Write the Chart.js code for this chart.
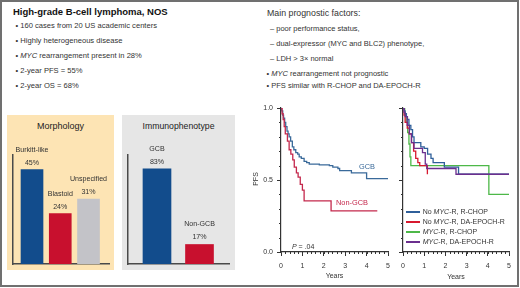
<!DOCTYPE html>
<html>
<head>
<meta charset="utf-8">
<script src="https://cdn.jsdelivr.net/npm/chart.js@4.4.0/dist/chart.umd.min.js"></script>
<style>
  html, body { margin: 0; padding: 0; background: #fff; }
  body { width: 520px; height: 288px; position: relative; overflow: hidden;
         font-family: "Liberation Sans", Arial, Helvetica, sans-serif; color: #333; }
  .abs { position: absolute; white-space: nowrap; }
  #frame { position: absolute; left: 0; top: 0; width: 519px; height: 287px;
           box-sizing: border-box; border: 2px solid #707070; }
  canvas { position: absolute; }
  .panel { position: absolute; }
</style>
</head>
<body>
<div id="frame"></div>

<div class="abs" style="left:13px;top:7px;font-size:9.5px;line-height:9.5px;font-weight:bold;color:#111;">High-grade B-cell lymphoma, NOS</div>
<div class="abs" style="left:15.5px;top:22.2px;font-size:7.6px;line-height:7.6px;">• 160 cases from 20 US academic centers</div>
<div class="abs" style="left:15.5px;top:37.2px;font-size:7.6px;line-height:7.6px;">• Highly heterogeneous disease</div>
<div class="abs" style="left:15.5px;top:52.2px;font-size:7.6px;line-height:7.6px;">• <i>MYC</i> rearrangement present in 28%</div>
<div class="abs" style="left:15.5px;top:67.2px;font-size:7.6px;line-height:7.6px;">• 2-year PFS = 55%</div>
<div class="abs" style="left:15.5px;top:81.7px;font-size:7.6px;line-height:7.6px;">• 2-year OS = 68%</div>

<div class="abs" style="left:267px;top:8.9px;font-size:8.8px;line-height:8.8px;">Main prognostic factors:</div>
<div class="abs" style="left:270px;top:24.9px;font-size:7.5px;line-height:7.5px;">– poor performance status,</div>
<div class="abs" style="left:270px;top:39.9px;font-size:7.5px;line-height:7.5px;">– dual-expressor (MYC and BLC2) phenotype,</div>
<div class="abs" style="left:270px;top:55.2px;font-size:7.5px;line-height:7.5px;">– LDH &gt; 3× normal</div>
<div class="abs" style="left:266.5px;top:69.5px;font-size:7.5px;line-height:7.5px;">• <i>MYC</i> rearrangement not prognostic</div>
<div class="abs" style="left:266.5px;top:82px;font-size:7.5px;line-height:7.5px;">• PFS similar with R-CHOP and DA-EPOCH-R</div>

<div class="panel" style="left:7px;top:115px;width:107px;height:155px;background:#fde4b4;"></div>
<div class="panel" style="left:122px;top:115px;width:113px;height:155px;background:#e6e6e6;"></div>
<div class="abs" style="left:7px;width:107px;text-align:center;top:121.5px;font-size:9px;line-height:9px;color:#222;">Morphology</div>
<div class="abs" style="left:122px;width:113px;text-align:center;top:121.6px;font-size:8.7px;line-height:8.7px;color:#222;">Immunophenotype</div>

<canvas id="morphChart" width="107" height="155" style="left:7px;top:115px;"></canvas>
<canvas id="immunoChart" width="113" height="155" style="left:122px;top:115px;"></canvas>
<canvas id="kmSubtype" width="150" height="188" style="left:245px;top:98px;"></canvas>
<canvas id="kmTreatment" width="125" height="188" style="left:395px;top:98px;"></canvas>

<div class="abs" style="left:255px;top:179px;font-size:7px;line-height:7px;transform:translate(-50%,-50%) rotate(-90deg);">PFS</div>
<div class="abs" style="left:334.5px;top:275px;font-size:7px;line-height:7px;transform:translate(-50%,-50%);">Years</div>
<div class="abs" style="left:456px;top:275.5px;font-size:7px;line-height:7px;transform:translate(-50%,-50%);">Years</div>
<div class="abs" style="left:367px;top:167px;font-size:7.4px;line-height:7.4px;transform:translate(-50%,-50%);color:#3a6a9a;">GCB</div>
<div class="abs" style="left:352px;top:203px;font-size:7.4px;line-height:7.4px;transform:translate(-50%,-50%);color:#c4284c;">Non-GCB</div>
<div class="abs" style="left:292px;top:242.5px;font-size:7px;line-height:7px;"><i>P</i> = .04</div>

<div id="kmLegend"></div>

<script>
// bar panels
const morphCategories = ['Burkitt-like', 'Blastoid', 'Unspecified'];
const morphValues = [45, 24, 31];
const morphColors = ['#124c8c', '#c8102e', '#c3c3c8'];

const immunoCategories = ['GCB', 'Non-GCB'];
const immunoValues = [83, 17];
const immunoColors = ['#124c8c', '#c8102e'];

// PFS by cell of origin (years, PFS proportion)
const gcbTimes = [0, 0.03, 0.08, 0.12, 0.17, 0.22, 0.28, 0.33, 0.38, 0.45, 0.53, 0.6, 0.69, 0.78, 0.85, 0.95, 1.08, 1.2, 1.32, 1.79, 2.26, 2.42, 2.66, 2.74, 3.29, 4.0, 5.0];
const gcbPfs = [1.0, 0.98, 0.95, 0.93, 0.9, 0.87, 0.84, 0.82, 0.8, 0.77, 0.73, 0.71, 0.69, 0.68, 0.66, 0.65, 0.63, 0.62, 0.61, 0.605, 0.6, 0.59, 0.58, 0.565, 0.55, 0.51, 0.51];
const nonGcbTimes = [0, 0.05, 0.1, 0.15, 0.2, 0.3, 0.38, 0.46, 0.55, 0.62, 0.72, 0.8, 0.9, 1.0, 1.08, 2.34, 4.5];
const nonGcbPfs = [1.0, 0.96, 0.92, 0.87, 0.82, 0.77, 0.71, 0.68, 0.64, 0.59, 0.55, 0.52, 0.47, 0.43, 0.355, 0.285, 0.285];

// PFS by MYC status and regimen
const treatmentNames = ['No MYC-R, R-CHOP', 'No MYC-R, DA-EPOCH-R', 'MYC-R, R-CHOP', 'MYC-R, DA-EPOCH-R'];
const treatmentColors = ['#2f5f9a', '#d7192f', '#4db848', '#6b2f8e'];
const noMycRchopTimes = [0, 0.05, 0.1, 0.16, 0.21, 0.28, 0.37, 0.45, 0.52, 0.84, 1.0, 1.16, 1.32, 1.42, 1.95, 2.62, 5.0];
const noMycRchopPfs = [1.0, 0.98, 0.96, 0.94, 0.92, 0.88, 0.85, 0.8, 0.76, 0.73, 0.72, 0.68, 0.65, 0.62, 0.59, 0.54, 0.54];
const noMycEpochTimes = [0, 0.05, 0.1, 0.2, 0.3, 0.4, 0.5, 0.6, 0.7, 0.79, 1.15];
const noMycEpochPfs = [1.0, 0.95, 0.9, 0.86, 0.82, 0.76, 0.7, 0.65, 0.62, 0.6, 0.54];
const mycRchopTimes = [0, 0.08, 0.15, 0.22, 0.28, 0.33, 0.37, 4.05, 5.0];
const mycRchopPfs = [1.0, 0.96, 0.9, 0.83, 0.75, 0.66, 0.6, 0.4, 0.4];
const mycEpochTimes = [0, 0.05, 0.1, 0.2, 0.3, 0.4, 0.52, 0.92, 1.05, 1.12, 2.5, 5.0];
const mycEpochPfs = [1.0, 0.97, 0.94, 0.88, 0.82, 0.76, 0.72, 0.69, 0.61, 0.58, 0.54, 0.54];

const yearTicks = [0, 1, 2, 3, 4, 5];
const minorStepX = 0.2;
const minorStepY = 0.1;

Chart.defaults.font.family = '"Liberation Sans", Arial, Helvetica, sans-serif';
Chart.defaults.color = '#333';

function toPoints(xs, ys) {
    return xs.map((x, i) => ({ x: x, y: ys[i] }));
}

// category name + percentage written above each bar
const barLabels = {
    id: 'barLabels',
    afterDatasetsDraw(chart, args, opts) {
        const ctx = chart.ctx;
        const meta = chart.getDatasetMeta(0);
        ctx.save();
        ctx.fillStyle = '#333';
        ctx.font = '7.1px "Liberation Sans", Arial, sans-serif';
        ctx.textAlign = 'center';
        ctx.textBaseline = 'middle';
        meta.data.forEach((bar, i) => {
            ctx.fillText(opts.names[i], bar.x, bar.y - 20);
            ctx.fillText(opts.values[i] + '%', bar.x, bar.y - 7);
        });
        ctx.restore();
    }
};

function barChart(id, names, values, colors, xMin, xMax, yMax, thickness) {
    return new Chart(document.getElementById(id), {
        type: 'bar',
        data: {
            datasets: [{
                data: toPoints(values.map((v, i) => i + 1), values),
                backgroundColor: colors,
                barThickness: thickness
            }]
        },
        options: {
            responsive: false,
            animation: false,
            layout: { padding: { left: 6, right: id === 'morphChart' ? 5 : 6, top: 40, bottom: 6 } },
            plugins: {
                legend: { display: false },
                tooltip: { enabled: false },
                barLabels: { names: names, values: values }
            },
            scales: {
                x: {
                    type: 'linear', min: xMin, max: xMax, offset: false,
                    ticks: { display: false },
                    grid: { display: false, offset: false },
                    border: { display: true, color: '#4a4a4a', width: 1.5 },
                    afterFit: s => { s.height = 0; s.paddingLeft = 0; s.paddingRight = 0; }
                },
                y: {
                    min: 0, max: yMax,
                    ticks: { display: false },
                    grid: { display: false },
                    border: { display: true, color: '#4a4a4a', width: 1.5 },
                    afterFit: s => { s.width = 0; s.paddingTop = 0; s.paddingBottom = 0; }
                }
            }
        },
        plugins: [barLabels]
    });
}

barChart('morphChart', morphCategories, morphValues, morphColors, 0.327, 3.725, 52, 22);
barChart('immunoChart', immunoCategories, immunoValues, immunoColors, 0.318, 2.694, 95, 28);

// small ticks between the labelled ones
const minorTicks = {
    id: 'minorTicks',
    afterDraw(chart) {
        const { ctx, scales: { x, y } } = chart;
        ctx.save();
        ctx.strokeStyle = '#333';
        ctx.lineWidth = 1;
        ctx.beginPath();
        for (let v = minorStepX; v < x.max; v += minorStepX) {
            const px = Math.round(x.getPixelForValue(v)) + 0.5;
            ctx.moveTo(px, x.top);
            ctx.lineTo(px, x.top + 2);
        }
        for (let v = minorStepY; v < y.max; v += minorStepY) {
            const py = Math.round(y.getPixelForValue(v)) + 0.5;
            ctx.moveTo(y.right, py);
            ctx.lineTo(y.right - 2, py);
        }
        ctx.stroke();
        ctx.restore();
    }
};

function kmLine(xs, ys, color) {
    return {
        data: toPoints(xs, ys),
        borderColor: color,
        borderWidth: 1.3,
        stepped: true,
        pointRadius: 0,
        fill: false
    };
}

function kmChart(id, datasets, yAxisWidth, rightPad, showYLabels) {
    return new Chart(document.getElementById(id), {
        type: 'line',
        data: { datasets: datasets },
        options: {
            responsive: false,
            animation: false,
            layout: { padding: { left: 0, right: rightPad, top: 10, bottom: 0 } },
            plugins: { legend: { display: false }, tooltip: { enabled: false } },
            scales: {
                x: {
                    type: 'linear', min: 0, max: 5,
                    afterBuildTicks: s => { s.ticks = yearTicks.map(v => ({ value: v })); },
                    ticks: { font: { size: 7 }, color: '#333', padding: 6, maxRotation: 0 },
                    grid: { display: true, drawOnChartArea: false, tickLength: 4, color: '#333' },
                    border: { display: true, color: '#333', width: 1.2 },
                    afterFit: s => { s.height = 34; s.paddingLeft = 0; s.paddingRight = 0; }
                },
                y: {
                    min: 0, max: 1,
                    ticks: {
                        display: showYLabels, stepSize: 0.5, font: { size: 7 }, color: '#333', padding: 4,
                        callback: v => v.toFixed(1)
                    },
                    grid: { display: true, drawOnChartArea: false, tickLength: 4, color: '#333' },
                    border: { display: true, color: '#333', width: 1.2 },
                    afterFit: s => { s.width = yAxisWidth; s.paddingTop = 0; s.paddingBottom = 0; }
                }
            }
        },
        plugins: [minorTicks]
    });
}

kmChart('kmSubtype', [
    kmLine(nonGcbTimes, nonGcbPfs, '#c4284c'),
    kmLine(gcbTimes, gcbPfs, '#3a6a9a')
], 36, 7, true);

kmChart('kmTreatment', [
    kmLine(mycEpochTimes, mycEpochPfs, treatmentColors[3]),
    kmLine(noMycRchopTimes, noMycRchopPfs, treatmentColors[0]),
    kmLine(noMycEpochTimes, noMycEpochPfs, treatmentColors[1]),
    kmLine(mycRchopTimes, mycRchopPfs, treatmentColors[2])
], 8, 11, false);

// legend with italic MYC
const legendEl = document.getElementById('kmLegend');
const legendRows = [212, 222, 232, 242];
treatmentNames.forEach((name, i) => {
    const line = document.createElement('div');
    line.className = 'abs';
    line.style.cssText = `left:406px;top:${legendRows[i] - 1}px;width:14px;height:2px;background:${treatmentColors[i]};`;
    legendEl.appendChild(line);
    const txt = document.createElement('div');
    txt.className = 'abs';
    txt.style.cssText = `left:422.7px;top:${legendRows[i] - 3.7}px;font-size:7px;line-height:7px;color:#333;`;
    txt.innerHTML = name.replace('MYC', '<i>MYC</i>');
    legendEl.appendChild(txt);
});
</script>
</body>
</html>
